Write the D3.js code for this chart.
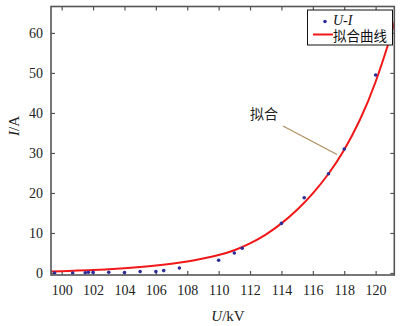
<!DOCTYPE html>
<html><head><meta charset="utf-8">
<script src="https://cdn.jsdelivr.net/npm/d3@7"></script>
<style>
html,body{margin:0;padding:0;background:#fff;}
svg{display:block;}
.tk text{font-family:"Liberation Serif","Times New Roman",serif;font-size:14px;fill:#222;}
</style></head>
<body>
<svg id="c" width="409" height="326"></svg>
<script>
// measured points (U in kV, I in A)
const measU = [99.55,100.7,101.5,101.7,102.0,103.0,104.0,105.0,106.0,106.5,107.5,110.0,111.0,111.5,114.0,115.45,117.0,118.0,120.0];
const measI = [0.0,0.0,0.05,0.2,0.15,0.2,0.1,0.35,0.35,0.6,1.25,3.2,5.0,6.2,12.4,18.8,24.8,31.0,49.5];
// fitted curve
const fitU = [99.3,100,101,102,103,104,105,106,107,108,109,110,111,112,113,114,115,116,117,118,119,120,121,121.5];
const fitI = [0.4,0.45,0.6,0.75,0.95,1.2,1.5,1.85,2.3,2.85,3.6,4.5,5.7,7.4,9.6,12.4,15.8,19.9,24.8,30.8,38.3,47.8,59.8,67.0];
const xTicks = [100,102,104,106,108,110,112,114,116,118,120];
const yTicks = [0,10,20,30,40,50,60];
const legendLabels = ["U-I","拟合曲线"];
const noteLabel = "拟合";

const svg = d3.select("#c");
const L=51,R=394.3,T=6.5,B=275;
const x = d3.scaleLinear().domain([99.32,121.19]).range([L,R]);
const y = d3.scaleLinear().domain([-0.5,66.6]).range([B,T]);

svg.append("defs").append("clipPath").attr("id","clip")
  .append("rect").attr("x",L).attr("y",T).attr("width",R-L).attr("height",B-T);

const axCol="#555";
function styleAx(g){g.select(".domain").remove();g.selectAll("line").attr("stroke",axCol).attr("stroke-width",1.2);g.attr("class","tk");}

svg.append("g").attr("transform",`translate(0,${B})`)
  .call(d3.axisBottom(x).tickValues(xTicks).tickSizeInner(-4).tickSizeOuter(0).tickPadding(10).tickFormat(d3.format("d")))
  .call(styleAx);
svg.append("g").attr("transform",`translate(0,${T})`)
  .call(d3.axisTop(x).tickValues(xTicks).tickSizeInner(-4).tickSizeOuter(0).tickFormat(""))
  .call(styleAx);
svg.append("g").attr("transform",`translate(${L},0)`)
  .call(d3.axisLeft(y).tickValues(yTicks).tickSizeInner(-4).tickSizeOuter(0).tickPadding(8))
  .call(styleAx);
svg.append("g").attr("transform",`translate(${R},0)`)
  .call(d3.axisRight(y).tickValues(yTicks).tickSizeInner(-4).tickSizeOuter(0).tickFormat(""))
  .call(styleAx);

// fitted curve
const fit = fitU.map((u,i)=>[u,fitI[i]]);
svg.append("path").datum(fit).attr("clip-path","url(#clip)")
  .attr("d",d3.line().x(d=>x(d[0])).y(d=>y(d[1])).curve(d3.curveNatural))
  .attr("fill","none").attr("stroke","#f01818").attr("stroke-width",2);

// measured points
svg.append("g").selectAll("circle").data(measU.map((u,i)=>[u,measI[i]])).join("circle")
  .attr("cx",d=>x(d[0])).attr("cy",d=>y(d[1])).attr("r",1.8).attr("fill","#2d2d9a");

// frame
svg.append("rect").attr("x",L).attr("y",T).attr("width",R-L).attr("height",B-T)
  .attr("fill","none").attr("stroke",axCol).attr("stroke-width",1.6);

// annotation
svg.append("line").attr("x1",283).attr("y1",126).attr("x2",337).attr("y2",154.5)
  .attr("stroke","#b08d5e").attr("stroke-width",1.2);
svg.append("text").attr("x",250).attr("y",119).text(noteLabel)
  .attr("font-family","Noto Sans CJK SC").attr("font-size",14).attr("fill","#222");

// legend
const lg = svg.append("g");
lg.append("rect").attr("x",307.5).attr("y",10).attr("width",85).attr("height",35)
  .attr("fill","#fff").attr("stroke","#111").attr("stroke-width",1);
lg.append("circle").attr("cx",325).attr("cy",21.5).attr("r",1.8).attr("fill","#2d2d9a");
lg.append("text").attr("x",333).attr("y",25).text(legendLabels[0])
  .attr("font-family","Liberation Serif").attr("font-style","italic").attr("font-size",14).attr("fill","#111");
lg.append("line").attr("x1",313).attr("x2",333).attr("y1",34.5).attr("y2",34.5)
  .attr("stroke","#f01818").attr("stroke-width",2);
lg.append("text").attr("x",333).attr("y",40.5).text(legendLabels[1])
  .attr("font-family","Noto Sans CJK SC").attr("font-size",13.5).attr("fill","#111");

// axis titles
const xt = svg.append("text").attr("x",228).attr("y",321).attr("text-anchor","middle")
  .attr("font-family","Liberation Serif").attr("font-size",15).attr("fill","#222");
xt.append("tspan").attr("font-style","italic").text("U");
xt.append("tspan").text("/kV");
const yt = svg.append("text").attr("transform","translate(19,126) rotate(-90)").attr("text-anchor","middle")
  .attr("font-family","Liberation Serif").attr("font-size",15).attr("fill","#222");
yt.append("tspan").attr("font-style","italic").text("I");
yt.append("tspan").text("/A");
</script>
</body></html>
